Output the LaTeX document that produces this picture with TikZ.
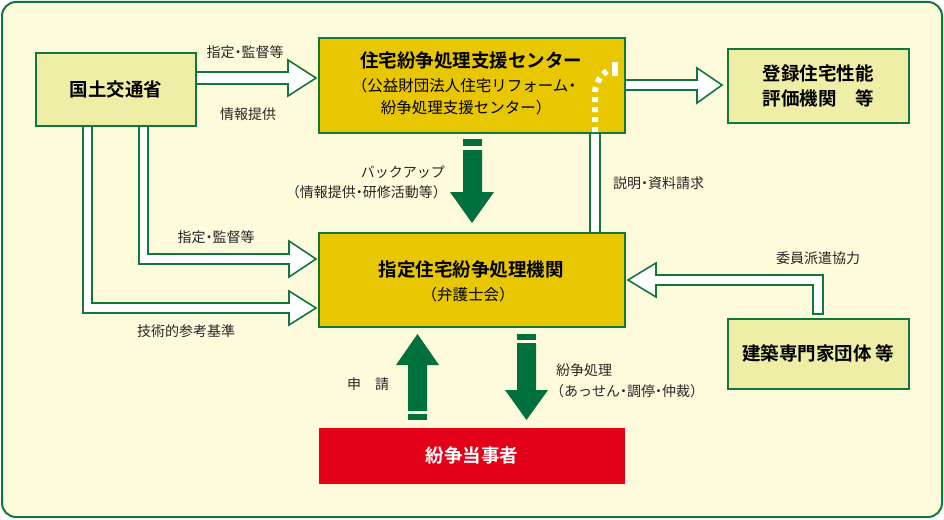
\documentclass[tikz,border=0pt]{standalone}
\usepackage{fontspec}
\setmainfont{Noto Sans CJK JP}[BoldFont={Noto Sans CJK JP Bold}]
\usetikzlibrary{positioning}
\definecolor{frame}{HTML}{12773C}
\definecolor{cream}{HTML}{FEFBDC}
\definecolor{pale}{HTML}{EFEEA6}
\definecolor{gold}{HTML}{E8C700}
\definecolor{dgreen}{HTML}{00703C}
\definecolor{party}{HTML}{E50019}

\tikzset{
  box/.style={draw=frame, line width=1.8pt, anchor=north west, inner sep=0pt, align=center},
  hollow/.style={draw=frame, fill=white, line width=1.6pt, line join=miter},
  solid/.style={fill=dgreen},
  title/.style={font=\fontsize{18.5}{24}\selectfont\bfseries},
  lbl/.style={font=\fontsize{14}{16}\selectfont, text=black!85, inner sep=0pt}
}
\newcommand{\pt}{\hspace{-0.25em}・\hspace{-0.25em}}

\begin{document}
\begin{tikzpicture}[x=1pt,y=-1pt]
    \useasboundingbox (0,0) rectangle (944,519);
    % Frame
    \draw[frame, fill=cream, line width=2pt, rounded corners=14pt] (2,2) rectangle (942,517);
    % Connectors
    \draw[hollow] (195,72) -- (288,72) -- (288,60) -- (316,78) -- (288,96) -- (288,84) -- (195,84) -- cycle;
    \draw[hollow] (624,80) -- (697,80) -- (697,68) -- (722,85) -- (697,103) -- (697,90) -- (624,90) -- cycle;
    \draw[hollow] (139,125) -- (148,125) -- (148,254) -- (289,254) -- (289,241) -- (316,259) -- (289,277) -- (289,264) -- (139,264) -- cycle;
    \draw[hollow] (83,125) -- (92,125) -- (92,303) -- (289,303) -- (289,291) -- (316,308) -- (289,325) -- (289,313) -- (83,313) -- cycle;
    \draw[hollow] (813,314) -- (813,285) -- (656,285) -- (656,297) -- (628,280) -- (656,263) -- (656,275) -- (823,275) -- (823,314) -- cycle;
    \draw[hollow] (590,130) rectangle (600,233);
    % Boxes
    \node[box, fill=pale, minimum width=160pt, minimum height=73pt, title] (mlit) at (35,52) {国土交通省};
    \node[box, fill=gold, minimum width=306pt, minimum height=95pt] (center) at (318,37) {};
    \node[box, fill=pale, minimum width=181pt, minimum height=74pt, font=\fontsize{18.5}{25}\selectfont\bfseries] (hyoka) at (727,48) {登録住宅性能\\評価機関\quad 等};
    \node[box, fill=gold, minimum width=306pt, minimum height=94pt] (kikan) at (318,232) {};
    \node[box, fill=pale, minimum width=181pt, minimum height=70pt, title] (kenchiku) at (727,318) {建築専門家団体 等};
    \node[box, draw=none, fill=party, minimum width=306pt, minimum height=56pt, text=white, title] (party) at (318,427) {紛争当事者};
    % Box texts
    \node[title] at (471,61) {住宅紛争処理支援センター};
    \node[font=\fontsize{15.5}{22}\selectfont, align=center] at (466,97) {（公益財団法人住宅リフォーム\pt\\紛争処理支援センター）};
    \node[title] at (471,270) {指定住宅紛争処理機関};
    \node[font=\fontsize{15.5}{18}\selectfont] at (468,295) {（弁護士会）};
    \draw[white, line width=6pt, dash pattern=on 5pt off 5pt] (595,132) -- (595,94) arc[start angle=180, end angle=125, radius=28pt];
    \fill[white] (612,62) rectangle (618,76);
    % Solid arrows
    \fill[solid] (463,139) rectangle (482,146);
    \fill[solid] (463,150) -- (482,150) -- (482,192) -- (494,192) -- (472,223) -- (450,192) -- (463,192) -- cycle;
    \fill[solid] (408,414) rectangle (427,420);
    \fill[solid] (408,411) -- (408,365) -- (396,365) -- (417.5,334) -- (439,365) -- (427,365) -- (427,411) -- cycle;
    \fill[solid] (517,334) rectangle (536,340);
    \fill[solid] (517,343) -- (536,343) -- (536,390) -- (548,390) -- (526.5,420) -- (505,390) -- (517,390) -- cycle;
    % Labels
    \node[lbl] at (245,52) {指定\pt 監督等};
    \node[lbl] at (248,114) {情報提供};
    \node[lbl, anchor=east] at (445,172) {バックアップ};
    \node[lbl, anchor=east] at (447,192) {（情報提供\pt 研修活動等）};
    \node[lbl, anchor=west] at (613,183) {説明\pt 資料請求};
    \node[lbl] at (216,237) {指定\pt 監督等};
    \node[lbl] at (186,331) {技術的参考基準};
    \node[lbl] at (818,258) {委員派遣協力};
    \node[lbl] at (368,384) {申\quad 請};
    \node[lbl, anchor=west] at (556,370) {紛争処理};
    \node[lbl, anchor=west] at (550,391) {（あっせん\pt 調停\pt 仲裁）};
\end{tikzpicture}
\end{document}
